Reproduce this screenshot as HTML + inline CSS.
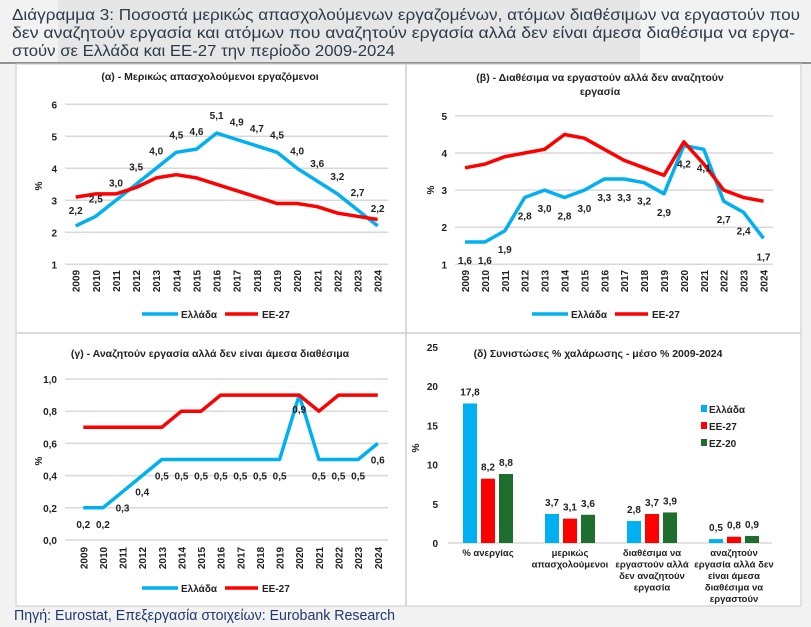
<!DOCTYPE html>
<html><head><meta charset="utf-8"><style>
html,body{margin:0;padding:0;background:#f2f2f2;}
svg{display:block;font-family:"Liberation Sans","DejaVu Sans",sans-serif;}
</style></head><body>
<svg id="s" width="811" height="627" xmlns="http://www.w3.org/2000/svg">
<rect x="0" y="0" width="811" height="627" fill="#f2f2f2"/>
<rect x="58" y="0" width="582" height="62" fill="#e6e6e6"/>
<text font-size="16" fill="#2b3a4a"><tspan x="12" y="20" textLength="788" lengthAdjust="spacingAndGlyphs">Διάγραμμα 3: Ποσοστά μερικώς απασχολούμενων εργαζομένων, ατόμων διαθέσιμων να εργαστούν που</tspan><tspan x="12" y="38" textLength="783" lengthAdjust="spacingAndGlyphs">δεν αναζητούν εργασία και ατόμων που αναζητούν εργασία αλλά δεν είναι άμεσα διαθέσιμα να εργα-</tspan><tspan x="12" y="56" textLength="383" lengthAdjust="spacingAndGlyphs">στούν σε Ελλάδα και ΕΕ-27 την περίοδο 2009-2024</tspan></text>
<line x1="0" y1="63" x2="811" y2="63" stroke="#333" stroke-width="1"/>
<rect x="16" y="64" width="785" height="542" fill="#fff" stroke="#d9d9d9" stroke-width="1.5"/>
<line x1="406" y1="64" x2="406" y2="606" stroke="#d9d9d9" stroke-width="2"/>
<line x1="16" y1="333" x2="801" y2="333" stroke="#d9d9d9" stroke-width="2"/>
<text x="14" y="620" font-size="15" fill="#1f3a6a" textLength="381" lengthAdjust="spacingAndGlyphs">Πηγή: Eurostat, Επεξεργασία στοιχείων: Eurobank Research</text>
<g id="g"></g>
</svg>
<script>
const g=document.getElementById('g');let h='';
const B='#00b0f0',R='#ff0000',G='#1e6e2e';
function t(x,y,s,o){o=o||{};h+=`<text x="${x}" y="${y}" font-size="${o.fs||10}" font-weight="bold" fill="#222" text-anchor="${o.a||'middle'}"${o.r?` transform="rotate(-90 ${x} ${y})"`:''}>${s}</text>`;}
function line(p){
 const {x0,step,ymap,vals,gridX1,gridX2,ticks,tickFmt,title,titleY,titleX,yearsY,legY,pctX,pctY,gr,eu,lab,labOff}=p;
 ticks.forEach(v=>{const y=ymap(v);h+=`<line x1="${gridX1}" y1="${y}" x2="${gridX2}" y2="${y}" stroke="#d9d9d9" stroke-width="1.5"/>`;t(gridX1-8,y+4,tickFmt(v),{a:'end'});});
 t(pctX,pctY,'%',{r:1});
 title.forEach((s,i)=>t(titleX,titleY+i*14,s,{fs:10.5}));
 for(let i=0;i<16;i++){const x=x0+i*step;t(x+4,yearsY,2009+i,{r:1,a:'middle'});}
 const pts=a=>a.map((v,i)=>`${(x0+i*step).toFixed(1)},${ymap(v).toFixed(1)}`).join(' ');
 h+=`<polyline points="${pts(gr)}" fill="none" stroke="${B}" stroke-width="3.5" stroke-linejoin="round"/>`;
 h+=`<polyline points="${pts(eu)}" fill="none" stroke="${R}" stroke-width="3.5" stroke-linejoin="round"/>`;
 gr.forEach((v,i)=>{const o=labOff(i);t(x0+i*step,ymap(v)+o,lab(v));});
 const cx=titleX;
 h+=`<line x1="${cx-68}" y1="${legY}" x2="${cx-32}" y2="${legY}" stroke="${B}" stroke-width="3.5"/>`;t(cx-29,legY+4,'Ελλάδα',{a:'start'});
 h+=`<line x1="${cx+15}" y1="${legY}" x2="${cx+48}" y2="${legY}" stroke="${R}" stroke-width="3.5"/>`;t(cx+52,legY+4,'ΕΕ-27',{a:'start'});
}
const f1=v=>v.toFixed(1).replace('.',',');
line({x0:75.7,step:20.13,ymap:v=>264.3-(v-1)*32,gridX1:65,gridX2:388,ticks:[1,2,3,4,5,6],tickFmt:v=>v,
 title:['(α) - Μερικώς απασχολούμενοι εργαζόμενοι'],titleY:80,titleX:210,yearsY:281,legY:314,pctX:42,pctY:186,
 gr:[2.2,2.5,3.0,3.5,4.0,4.5,4.6,5.1,4.9,4.7,4.5,4.0,3.6,3.2,2.7,2.2],
 eu:[3.1,3.2,3.2,3.4,3.7,3.8,3.7,3.5,3.3,3.1,2.9,2.9,2.8,2.6,2.5,2.4],lab:f1,labOff:i=>i==0?-12:-14});
line({x0:465,step:19.9,ymap:v=>264.3-(v-1)*37.1,gridX1:455,gridX2:773,ticks:[1,2,3,4,5],tickFmt:v=>v,
 title:['(β) - Διαθέσιμα να εργαστούν αλλά δεν αναζητούν','εργασία'],titleY:81,titleX:600,yearsY:281,legY:314,pctX:434,pctY:190,
 gr:[1.6,1.6,1.9,2.8,3.0,2.8,3.0,3.3,3.3,3.2,2.9,4.2,4.1,2.7,2.4,1.7],
 eu:[3.6,3.7,3.9,4.0,4.1,4.5,4.4,4.1,3.8,3.6,3.4,4.3,3.7,3.0,2.8,2.7],lab:f1,labOff:i=>22});
line({x0:83.3,step:19.63,ymap:v=>540-v*161,gridX1:65,gridX2:388,ticks:[0,0.2,0.4,0.6,0.8,1.0],tickFmt:f1,
 title:['(γ) - Αναζητούν εργασία αλλά δεν είναι άμεσα διαθέσιμα'],titleY:357,titleX:210,yearsY:558,legY:588,pctX:42,pctY:461,
 gr:[0.2,0.2,0.3,0.4,0.5,0.5,0.5,0.5,0.5,0.5,0.5,0.9,0.5,0.5,0.5,0.6],
 eu:[0.7,0.7,0.7,0.7,0.7,0.8,0.8,0.9,0.9,0.9,0.9,0.9,0.8,0.9,0.9,0.9],lab:f1,labOff:i=>i==11?18:20});
const ym=v=>543-v*7.84;
[0,5,10,15,20,25].forEach(v=>t(438,ym(v)+4,v,{a:'end'}));
h+=`<line x1="448" y1="543" x2="772" y2="543" stroke="#d9d9d9" stroke-width="1.5"/>`;
t(419,448,'%',{r:1});
t(598,357,'(δ) Συνιστώσες % χαλάρωσης - μέσο % 2009-2024',{fs:10.5});
const D=[[17.8,8.2,8.8],[3.7,3.1,3.6],[2.8,3.7,3.9],[0.5,0.8,0.9]],cs=[488,570,652,734],col=[B,R,G];
const cats=[['% ανεργίας'],['μερικώς','απασχολούμενοι'],['διαθέσιμα να','εργαστούν αλλά','δεν αναζητούν','εργασία'],['αναζητούν','εργασία αλλά δεν','είναι άμεσα','διαθέσιμα να','εργαστούν']];
D.forEach((g3,i)=>{g3.forEach((v,j)=>{const x=cs[i]-25+j*18;h+=`<rect x="${x}" y="${ym(v)}" width="14" height="${v*7.84}" fill="${col[j]}"/>`;t(x+7,ym(v)-8,f1(v));});
 cats[i].forEach((s,k)=>t(cs[i],556+k*11.5,s,{fs:9.5}));});
['Ελλάδα','ΕΕ-27','ΕΖ-20'].forEach((s,k)=>{const y=409+k*17;h+=`<rect x="701" y="${y-4}" width="6" height="7" fill="${col[k]}"/>`;t(709,y+4,s,{a:'start'});});
g.innerHTML=h;
</script>
</body></html>
